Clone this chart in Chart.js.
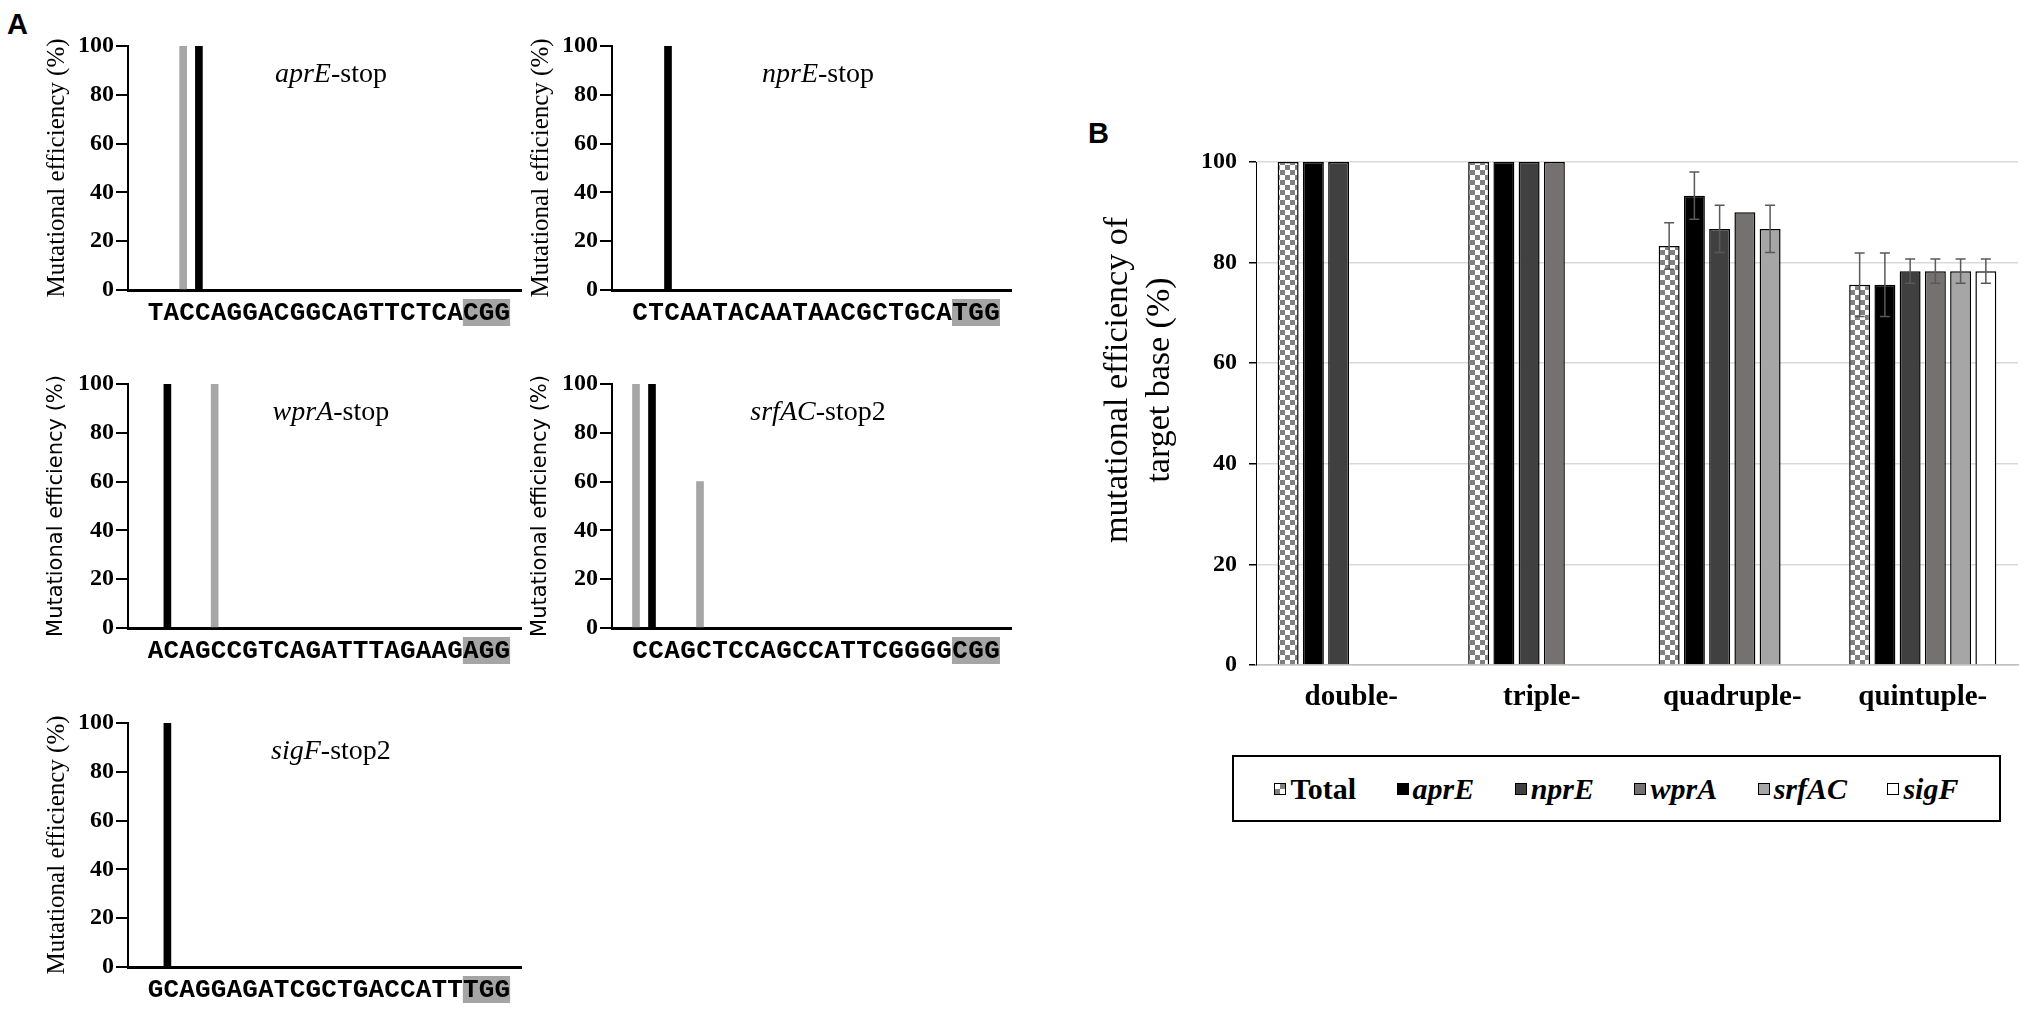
<!DOCTYPE html>
<html>
<head>
<meta charset="utf-8">
<script src="https://cdn.jsdelivr.net/npm/chart.js@4.4.1/dist/chart.umd.min.js"></script>
<style>
  body { margin: 0; background: #fff; width: 2033px; height: 1012px; position: relative; overflow: hidden; }
  canvas { position: absolute; }
  .tag { position: absolute; font-family: "Liberation Sans", Arial, sans-serif; font-weight: bold; font-size: 29px; line-height: 1; }
  #legend { position: absolute; left: 1232px; top: 755px; width: 769px; height: 67px; box-sizing: border-box;
            border: 2px solid #000; display: flex; align-items: center; justify-content: space-evenly;
            font-family: "Liberation Serif", serif; font-weight: bold; font-size: 30px; }
  #legend .item { display: flex; align-items: center; }
  #legend .sw { display: inline-block; width: 10px; height: 10px; border: 1px solid #000; margin-right: 4px; }
</style>
</head>
<body>
<div class="tag" style="left:7px;top:10px;">A</div>
<div class="tag" style="left:1088px;top:119px;">B</div>

<canvas id="a1" width="522" height="304" style="left:0px;top:26px;"></canvas>
<canvas id="a2" width="528" height="304" style="left:484px;top:26px;"></canvas>
<canvas id="a3" width="522" height="304" style="left:0px;top:364px;"></canvas>
<canvas id="a4" width="528" height="304" style="left:484px;top:364px;"></canvas>
<canvas id="a5" width="522" height="304" style="left:0px;top:703px;"></canvas>
<canvas id="b" width="993" height="605" style="left:1040px;top:120px;"></canvas>

<div id="legend">
  <span class="item"><span class="sw" style="background:conic-gradient(#808080 25%, #fff 0 50%, #808080 0 75%, #fff 0);"></span>Total</span>
  <span class="item"><span class="sw" style="background:#000;"></span><i>aprE</i></span>
  <span class="item"><span class="sw" style="background:#404040;"></span><i>nprE</i></span>
  <span class="item"><span class="sw" style="background:#767171;"></span><i>wprA</i></span>
  <span class="item"><span class="sw" style="background:#a6a6a6;"></span><i>srfAC</i></span>
  <span class="item"><span class="sw" style="background:#fff;"></span><i>sigF</i></span>
</div>

<script>
//########## DATA ###########

// panel A: protospacer + PAM sequences
var seqAprE  = 'TACCAGGACGGCAGTTCTCACGG';
var seqNprE  = 'CTCAATACAATAACGCTGCATGG';
var seqWprA  = 'ACAGCCGTCAGATTTAGAAGAGG';
var seqSrfAC = 'CCAGCTCCAGCCATTCGGGGCGG';
var seqSigF  = 'GCAGGAGATCGCTGACCATTTGG';

// edited sites (0-based position in sequence) and efficiency (%)
var aprEBlackPos  = [3],    aprEBlackVal  = [100];
var aprEGrayPos   = [2],    aprEGrayVal   = [100];
var nprEBlackPos  = [2],    nprEBlackVal  = [100];
var nprEGrayPos   = [],     nprEGrayVal   = [];
var wprABlackPos  = [1],    wprABlackVal  = [100];
var wprAGrayPos   = [4],    wprAGrayVal   = [100];
var srfACBlackPos = [1],    srfACBlackVal = [100];
var srfACGrayPos  = [0, 4], srfACGrayVal  = [100, 60];
var sigFBlackPos  = [1],    sigFBlackVal  = [100];
var sigFGrayPos   = [],     sigFGrayVal   = [];

var aTicks = [0, 20, 40, 60, 80, 100];

// panel B: multiplex editing
var groups = ['double-', 'triple-', 'quadruple-', 'quintuple-'];
var seriesNames = ['Total', 'aprE', 'nprE', 'wprA', 'srfAC', 'sigF'];
var totalVals = [100, 100, 83.3, 75.6];
var aprEVals  = [100, 100, 93.3, 75.6];
var nprEVals  = [100, 100, 86.7, 78.3];
var wprAVals  = [null, 100, 90, 78.3];
var srfACVals = [null, null, 86.7, 78.3];
var sigFVals  = [null, null, null, 78.3];
var totalErr = [0, 0, 4.6, 6.3];
var aprEErr  = [0, 0, 4.7, 6.3];
var nprEErr  = [0, 0, 4.7, 2.4];
var wprAErr  = [0, 0, 0, 2.4];
var srfACErr = [0, 0, 4.7, 2.4];
var sigFErr  = [0, 0, 0, 2.4];

//########## PANEL A ###########

var SERIF = '"Liberation Serif", "Times New Roman", serif';
Chart.defaults.font.family = SERIF;
Chart.defaults.color = '#000';

var LETTER_SHIFT = 4;

// grey box under the PAM (last three letters)
var pamBox = {
    id: 'pamBox',
    beforeDraw: function (chart) {
        var x = chart.scales.x, n = chart.data.labels.length;
        var pitch = x.getPixelForValue(1) - x.getPixelForValue(0);
        var left = x.getPixelForValue(n - 4) - pitch / 2 + LETTER_SHIFT;
        var right = x.getPixelForValue(n - 2) + pitch / 2 + LETTER_SHIFT;
        var ctx = chart.ctx;
        ctx.save();
        ctx.fillStyle = '#a5a5a5';
        ctx.fillRect(left, chart.chartArea.bottom + 9, right - left, 27);
        ctx.restore();
    }
};

// gene-stop label inside the plot: italic gene + plain suffix
var panelTitle = {
    id: 'panelTitle',
    afterDraw: function (chart, args, opts) {
        var ctx = chart.ctx, a = chart.chartArea;
        ctx.save();
        ctx.fillStyle = '#000';
        ctx.textBaseline = 'middle';
        ctx.font = 'italic 28px ' + SERIF;
        var w1 = ctx.measureText(opts.gene).width;
        ctx.font = '28px ' + SERIF;
        var w2 = ctx.measureText(opts.rest).width;
        var x0 = (a.left + a.right) / 2 + 6 - (w1 + w2) / 2;
        var y0 = a.top + 29;
        ctx.font = 'italic 28px ' + SERIF;
        ctx.fillText(opts.gene, x0, y0);
        ctx.font = '28px ' + SERIF;
        ctx.fillText(opts.rest, x0 + w1, y0);
        ctx.restore();
    }
};

function siteData(labels, pos, val) {
    return labels.map(function (l, i) {
        var k = pos.indexOf(i - 1);
        return k >= 0 ? val[k] : null;
    });
}

function seqChart(id, seq, blackPos, blackVal, grayPos, grayVal, gene, rest, yFont) {
    var labels = [''].concat(seq.split(''), ['']);
    return new Chart(document.getElementById(id).getContext('2d'), {
        type: 'bar',
        data: {
            labels: labels,
            datasets: [{
                data: siteData(labels, grayPos, grayVal),
                backgroundColor: '#a6a6a6',
                barThickness: 7,
                grouped: false
            }, {
                data: siteData(labels, blackPos, blackVal),
                backgroundColor: '#000',
                barThickness: 7,
                grouped: false
            }]
        },
        options: {
            responsive: false,
            animation: false,
            layout: { padding: { top: 20, left: 0, right: 0, bottom: 0 } },
            plugins: {
                legend: { display: false },
                tooltip: { enabled: false },
                panelTitle: { gene: gene, rest: rest }
            },
            scales: {
                x: {
                    grid: { drawOnChartArea: false, drawTicks: false },
                    border: { color: '#000', width: 3 },
                    ticks: {
                        autoSkip: false, maxRotation: 0, padding: 8, labelOffset: LETTER_SHIFT,
                        font: { family: '"Liberation Mono", "Courier New", monospace', weight: 'bold', size: 26 }
                    },
                    afterFit: function (s) { s.height = 40; }
                },
                y: {
                    min: 0, max: 100,
                    afterBuildTicks: function (s) { s.ticks = aTicks.map(function (v) { return { value: v }; }); },
                    grid: { drawOnChartArea: false, tickLength: 12, tickColor: '#000', lineWidth: 2 },
                    border: { color: '#000', width: 2 },
                    ticks: { padding: 2, font: { family: SERIF, weight: 'bold', size: 24 } },
                    title: {
                        display: true,
                        text: 'Mutational efficiency (%)',
                        font: yFont,
                        padding: { top: 57 - yFont.size * 0.6, bottom: 0 }
                    },
                    afterFit: function (s) { s.width = 128; }
                }
            }
        },
        plugins: [pamBox, panelTitle]
    });
}

var serifTitle = { family: SERIF, size: 25 };
var sansTitle = { family: '"DejaVu Sans", sans-serif', size: 21 };

seqChart('a1', seqAprE, aprEBlackPos, aprEBlackVal, aprEGrayPos, aprEGrayVal, 'aprE', '-stop', serifTitle);
seqChart('a2', seqNprE, nprEBlackPos, nprEBlackVal, nprEGrayPos, nprEGrayVal, 'nprE', '-stop', serifTitle);
seqChart('a3', seqWprA, wprABlackPos, wprABlackVal, wprAGrayPos, wprAGrayVal, 'wprA', '-stop', sansTitle);
seqChart('a4', seqSrfAC, srfACBlackPos, srfACBlackVal, srfACGrayPos, srfACGrayVal, 'srfAC', '-stop2', sansTitle);
seqChart('a5', seqSigF, sigFBlackPos, sigFBlackVal, sigFGrayPos, sigFGrayVal, 'sigF', '-stop2', serifTitle);

//########## PANEL B ###########

// checkerboard fill for "Total"
var pc = document.createElement('canvas');
pc.width = 10; pc.height = 10;
var pctx = pc.getContext('2d');
pctx.fillStyle = '#fff'; pctx.fillRect(0, 0, 10, 10);
pctx.fillStyle = '#808080'; pctx.fillRect(0, 0, 5, 5); pctx.fillRect(5, 5, 5, 5);

var bCtx = document.getElementById('b').getContext('2d');
var checker = bCtx.createPattern(pc, 'repeat');

var errorBars = {
    id: 'errorBars',
    afterDatasetsDraw: function (chart) {
        var ctx = chart.ctx, y = chart.scales.y;
        ctx.save();
        ctx.strokeStyle = '#595959';
        ctx.lineWidth = 1.5;
        chart.data.datasets.forEach(function (ds, di) {
            var meta = chart.getDatasetMeta(di);
            ds.errors.forEach(function (e, i) {
                var v = ds.data[i];
                if (v == null || !e) return;
                var bx = meta.data[i].x;
                var top = y.getPixelForValue(v + e), bot = y.getPixelForValue(v - e);
                ctx.beginPath();
                ctx.moveTo(bx, top); ctx.lineTo(bx, bot);
                ctx.moveTo(bx - 5, top); ctx.lineTo(bx + 5, top);
                ctx.moveTo(bx - 5, bot); ctx.lineTo(bx + 5, bot);
                ctx.stroke();
            });
        });
        ctx.restore();
    }
};

var bYTitle = {
    id: 'bYTitle',
    afterDraw: function (chart) {
        var ctx = chart.ctx;
        ctx.save();
        ctx.fillStyle = '#000';
        ctx.font = '34px ' + SERIF;
        ctx.textAlign = 'center';
        ctx.textBaseline = 'middle';
        ctx.translate(78, 260);
        ctx.rotate(-Math.PI / 2);
        ctx.fillText('mutational efficiency of', 0, 0);
        ctx.fillText('target base (%)', 0, 42);
        ctx.restore();
    }
};

var bSeries = [totalVals, aprEVals, nprEVals, wprAVals, srfACVals, sigFVals];
var bErrors = [totalErr, aprEErr, nprEErr, wprAErr, srfACErr, sigFErr];
var bColors = [checker, '#000', '#404040', '#767171', '#a6a6a6', '#fff'];

var bChart = new Chart(bCtx, {
    type: 'bar',
    data: {
        labels: groups,
        datasets: bSeries.map(function (vals, i) {
            return {
                label: seriesNames[i],
                data: vals,
                errors: bErrors[i],
                backgroundColor: bColors[i],
                borderColor: '#000',
                borderWidth: 1.5,
                categoryPercentage: 0.795,
                barPercentage: 0.83
            };
        })
    },
    options: {
        responsive: false,
        animation: false,
        layout: { padding: { top: 42, right: 15, left: 0, bottom: 0 } },
        plugins: { legend: { display: false }, tooltip: { enabled: false } },
        scales: {
            x: {
                grid: { display: false, drawTicks: false },
                border: { color: '#bfbfbf', width: 1.5 },
                ticks: { padding: 15, font: { family: SERIF, weight: 'bold', size: 29 } },
                afterFit: function (s) { s.height = 60; }
            },
            y: {
                min: 0, max: 100,
                ticks: { stepSize: 20, padding: 12, font: { family: SERIF, weight: 'bold', size: 24 } },
                grid: { color: '#d9d9d9', lineWidth: 1.5, tickLength: 7, tickColor: '#000' },
                border: { color: '#000', width: 1 },
                afterFit: function (s) { s.width = 216; }
            }
        }
    },
    plugins: [errorBars, bYTitle]
});
</script>
</body>
</html>
